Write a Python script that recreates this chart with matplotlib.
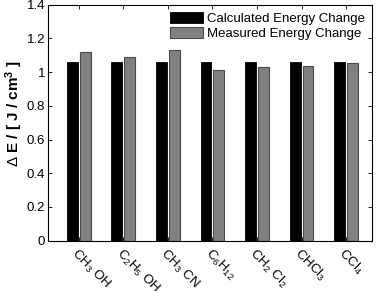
import numpy as np
import matplotlib
matplotlib.use("Agg")
import matplotlib.pyplot as plt
import matplotlib.transforms as mtransforms

solvents = [r"CH$_3$ OH", r"C$_2$H$_5$ OH", r"CH$_3$ CN", r"C$_6$H$_{12}$",
            r"CH$_2$ Cl$_2$", r"CHCl$_3$", r"CCl$_4$"]
calculated = [1.06, 1.06, 1.06, 1.06, 1.06, 1.06, 1.06]
measured = [1.117, 1.088, 1.131, 1.015, 1.030, 1.038, 1.054]
yticks = [0, 0.2, 0.4, 0.6, 0.8, 1, 1.2, 1.4]
ytick_labels = ["0", "0.2", "0.4", "0.6", "0.8", "1", "1.2", "1.4"]

plt.rcParams["font.family"] = ["Liberation Sans", "DejaVu Sans"]
plt.rcParams["mathtext.fontset"] = "custom"
plt.rcParams["mathtext.rm"] = "Liberation Sans"
plt.rcParams["mathtext.it"] = "Liberation Sans"
plt.rcParams["mathtext.bf"] = "Liberation Sans:bold"

fig = plt.figure(figsize=(3.78, 2.91), dpi=100)
ax = fig.add_axes([0.127, 0.173, 0.857, 0.811])

x = np.arange(1, len(solvents) + 1)
ax.bar(x - 0.145, calculated, width=0.245, color="black", edgecolor="black",
       linewidth=0.6, label="Calculated Energy Change")
ax.bar(x + 0.145, measured, width=0.245, color="#808080", edgecolor="#4a4a4a",
       linewidth=0.8, label="Measured Energy Change")

ax.set_xlim(0.31, 7.58)
ax.set_ylim(0, 1.4)
ax.set_yticks(yticks)
ax.set_yticklabels(ytick_labels, fontsize=9.5)
ax.set_xticks(x)
ax.set_xticklabels(solvents, fontsize=9.5, rotation=-45, ha="left", va="top",
                   rotation_mode="anchor")
shift = mtransforms.ScaledTranslation(-6 / 72, 2 / 72, fig.dpi_scale_trans)
for lbl in ax.get_xticklabels():
    lbl.set_transform(lbl.get_transform() + shift)
ax.tick_params(direction="in", length=3, width=0.6, top=True, right=True,
               pad=2)
ax.tick_params(axis="x", pad=4)
for s in ax.spines.values():
    s.set_linewidth(0.8)

ax.set_ylabel(r"$\Delta$ E / [ J / cm$^\mathbf{3}$ ]", fontsize=11,
              fontweight="bold")
ax.yaxis.set_label_coords(-0.07, 0.54)

ax.legend(loc="upper right", fontsize=9.5, frameon=False,
          handlelength=2.5, handleheight=0.9, handletextpad=0.3,
          labelspacing=0.15, borderaxespad=0.15)

fig.savefig("out.png", dpi=100)
